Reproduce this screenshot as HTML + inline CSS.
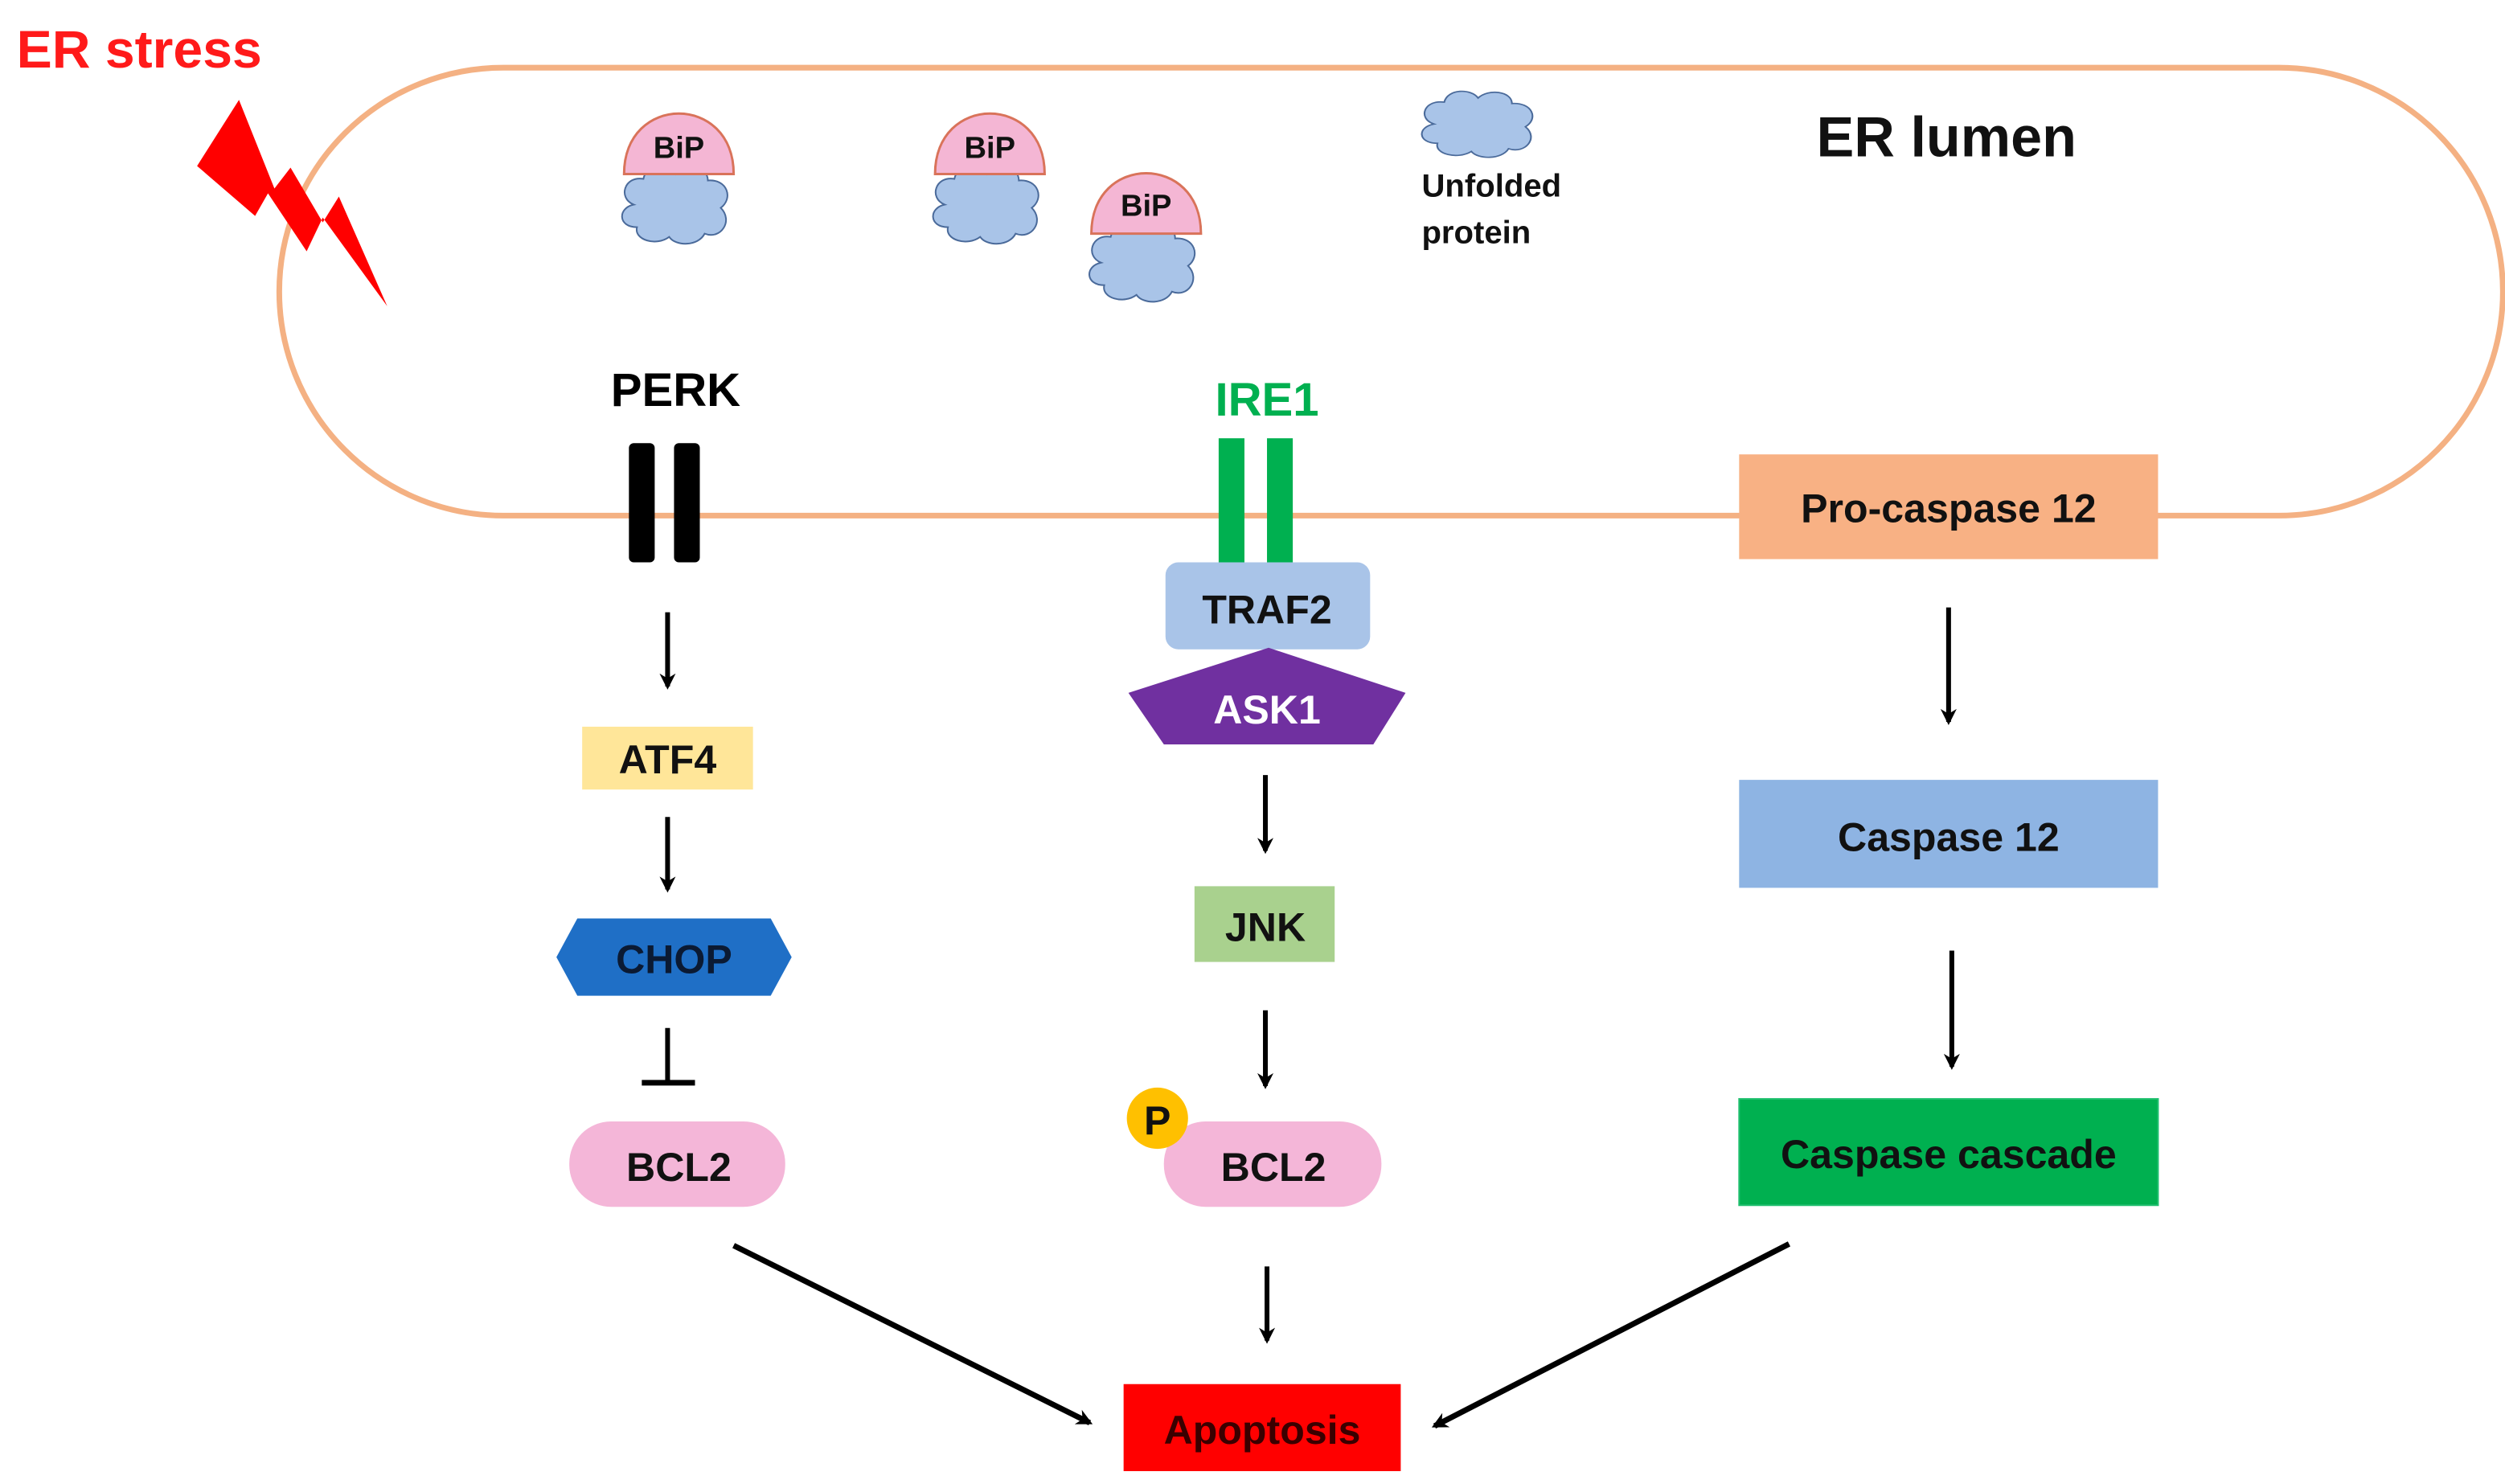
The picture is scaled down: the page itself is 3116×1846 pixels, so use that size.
<!DOCTYPE html>
<html><head><meta charset="utf-8"><style>html,body{margin:0;padding:0;background:#fff}svg{display:block}text{font-family:"Liberation Sans",sans-serif;font-weight:bold}</style></head>
<body>
<svg width="3116" height="1846" viewBox="0 0 1554 921" xmlns="http://www.w3.org/2000/svg">
<defs>
<marker id="ah" markerWidth="10" markerHeight="10" refX="8" refY="5" orient="auto" markerUnits="userSpaceOnUse">
<path d="M0,0 L10,5 L0,10 L3,5 Z" fill="#000"/></marker>
<g id="cloud"><path d="M-26,0 C-36,-4 -32,-18 -20,-16 C-18,-26 -4,-26 0,-19 C6,-26 20,-24 20,-15 C32,-16 36,-4 28,2 C36,10 28,22 18,18 C14,26 0,26 -4,20 C-12,26 -26,22 -24,14 C-36,14 -36,2 -26,0 Z" fill="#a9c4e8" stroke="#4a6a9a" stroke-width="1"/></g>
<g id="bip"><path d="M-34,0 C-34,-50 34,-50 34,0 Z" fill="#f4b6d4" stroke="#d9735a" stroke-width="1.5"/></g>
</defs>
<rect x="173" y="42" width="1380" height="278" rx="139" ry="139" fill="none" stroke="#f4b183" stroke-width="3.5"/>
<text x="10" y="42" font-size="33" fill="#ff1a1a">ER stress</text>
<polygon points="148,62 122,103 158,134 166,120 190,156 200,135 240,190 210,122 200,138 180,104 170,117" fill="#ff0000"/>
<use href="#cloud" x="419" y="127"/><use href="#bip" x="421" y="108"/>
<text x="421" y="98" font-size="19" text-anchor="middle" fill="#111">BiP</text>
<use href="#cloud" x="612" y="127"/><use href="#bip" x="614" y="108"/>
<text x="614" y="98" font-size="19" text-anchor="middle" fill="#111">BiP</text>
<use href="#cloud" x="709" y="163"/><use href="#bip" x="711" y="145"/>
<text x="711" y="134" font-size="19" text-anchor="middle" fill="#111">BiP</text>
<g transform="translate(917,77) scale(1.05,0.85)"><use href="#cloud"/></g>
<text x="882" y="122" font-size="20" fill="#111">Unfolded</text>
<text x="882" y="151" font-size="20" fill="#111">protein</text>
<text x="1127" y="97" font-size="35" fill="#111">ER lumen</text>
<text x="419" y="252" font-size="29" text-anchor="middle" fill="#000">PERK</text>
<rect x="390" y="275" width="16" height="74" rx="3" fill="#000"/>
<rect x="418" y="275" width="16" height="74" rx="3" fill="#000"/>
<line x1="414" y1="380" x2="414" y2="426" stroke="#000" stroke-width="3" marker-end="url(#ah)"/>
<rect x="361" y="451" width="106" height="39" fill="#ffe699"/>
<text x="414" y="480" font-size="25" text-anchor="middle" fill="#111">ATF4</text>
<line x1="414" y1="507" x2="414" y2="552" stroke="#000" stroke-width="3" marker-end="url(#ah)"/>
<polygon points="345,594 358,570 478,570 491,594 478,618 358,618" fill="#1f6fc6"/>
<text x="418" y="604" font-size="25" text-anchor="middle" fill="#0b1a33">CHOP</text>
<line x1="414" y1="638" x2="414" y2="672" stroke="#000" stroke-width="3"/>
<line x1="398" y1="672" x2="431" y2="672" stroke="#000" stroke-width="3.5"/>
<rect x="353" y="696" width="134" height="53" rx="26" fill="#f4b6d8"/>
<text x="421" y="733" font-size="25" text-anchor="middle" fill="#111">BCL2</text>
<line x1="455" y1="773" x2="676" y2="883" stroke="#000" stroke-width="3.5" marker-end="url(#ah)"/>
<text x="786" y="258" font-size="29" text-anchor="middle" fill="#00b050">IRE1</text>
<rect x="756" y="272" width="16" height="78" fill="#00b050"/>
<rect x="786" y="272" width="16" height="78" fill="#00b050"/>
<rect x="723" y="349" width="127" height="54" rx="8" fill="#a9c4e8"/>
<text x="786" y="387" font-size="25" text-anchor="middle" fill="#111">TRAF2</text>
<polygon points="787,402 872,430 852,462 722,462 700,430" fill="#7030a0"/>
<text x="786" y="449" font-size="25" text-anchor="middle" fill="#fff">ASK1</text>
<line x1="785" y1="481" x2="785" y2="528" stroke="#000" stroke-width="3" marker-end="url(#ah)"/>
<rect x="741" y="550" width="87" height="47" fill="#a9d18e"/>
<text x="785" y="584" font-size="25" text-anchor="middle" fill="#111">JNK</text>
<line x1="785" y1="627" x2="785" y2="674" stroke="#000" stroke-width="3" marker-end="url(#ah)"/>
<rect x="722" y="696" width="135" height="53" rx="26" fill="#f4b6d8"/>
<text x="790" y="733" font-size="25" text-anchor="middle" fill="#111">BCL2</text>
<circle cx="718" cy="694" r="19" fill="#ffc000"/>
<text x="718" y="704" font-size="25" text-anchor="middle" fill="#111">P</text>
<line x1="786" y1="786" x2="786" y2="832" stroke="#000" stroke-width="3" marker-end="url(#ah)"/>
<rect x="697" y="859" width="172" height="54" fill="#ff0000"/>
<text x="783" y="896" font-size="25" text-anchor="middle" fill="#3a0000">Apoptosis</text>
<rect x="1079" y="282" width="260" height="65" fill="#f8b184"/>
<text x="1209" y="324" font-size="25" text-anchor="middle" fill="#111">Pro-caspase 12</text>
<line x1="1209" y1="377" x2="1209" y2="448" stroke="#000" stroke-width="3" marker-end="url(#ah)"/>
<rect x="1079" y="484" width="260" height="67" fill="#8eb4e3"/>
<text x="1209" y="528" font-size="25" text-anchor="middle" fill="#111">Caspase 12</text>
<line x1="1211" y1="590" x2="1211" y2="662" stroke="#000" stroke-width="3" marker-end="url(#ah)"/>
<rect x="1079" y="682" width="260" height="66" fill="#00b050" stroke="#22c070" stroke-width="1"/>
<text x="1209" y="725" font-size="25" text-anchor="middle" fill="#111">Caspase cascade</text>
<line x1="1110" y1="772" x2="890" y2="885" stroke="#000" stroke-width="3.5" marker-end="url(#ah)"/>
</svg>
</body></html>
